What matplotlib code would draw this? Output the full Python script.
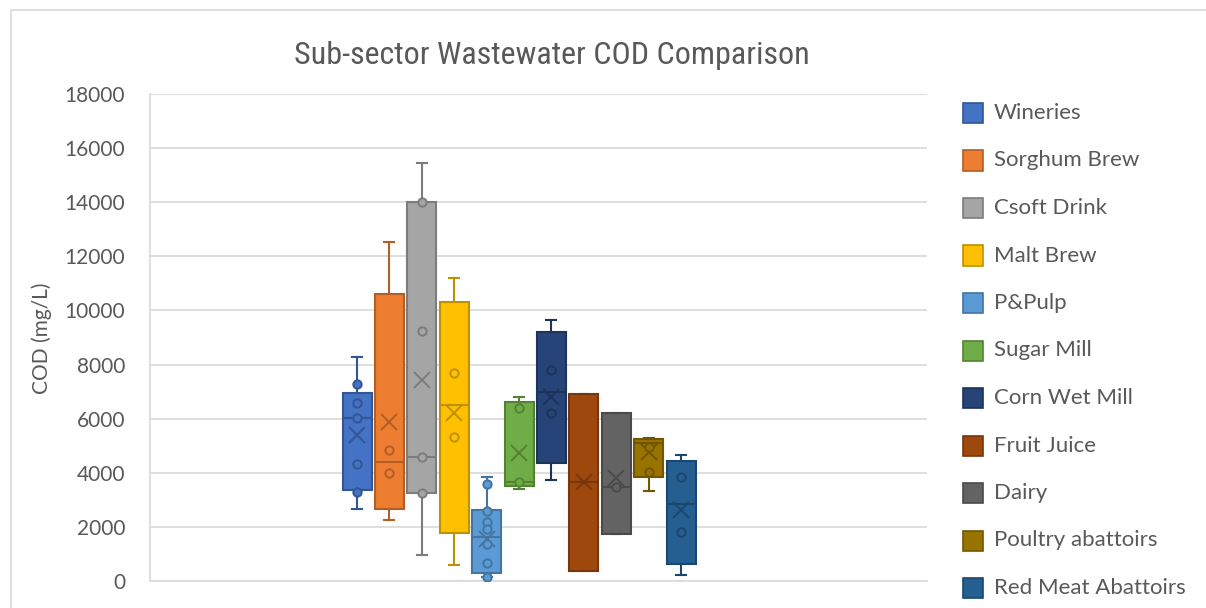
import matplotlib
matplotlib.use("Agg")
import matplotlib.pyplot as plt
from matplotlib.patches import Rectangle
from matplotlib.colors import to_rgb

# ---------------------------------------------------------------
# data
# ---------------------------------------------------------------
sectors = ["Wineries", "Sorghum Brew", "Csoft Drink", "Malt Brew", "P&Pulp",
           "Sugar Mill", "Corn Wet Mill", "Fruit Juice", "Dairy",
           "Poultry abattoirs", "Red Meat Abattoirs"]
colors = ["#4472C4", "#ED7D31", "#A5A5A5", "#FFC000", "#5B9BD5", "#70AD47",
          "#264478", "#9E480E", "#636363", "#997300", "#255E91"]

q1 = [3360, 2670, 3240, 1760, 310, 3510, 4350, 370, 1740, 3850, 620]
median = [6040, 4410, 4570, 6500, 1640, 3650, 7000, 3650, 3490, 5090, 2850]
q3 = [6960, 10610, 14020, 10320, 2620, 6600, 9190, 6900, 6200, 5240, 4450]
whisker_lo = [2670, 2270, 950, 580, 137, 3390, 3730, 370, 1740, 3340, 220]
whisker_hi = [8290, 12540, 15440, 11210, 3850, 6810, 9650, 6900, 6200, 5300, 4660]
mean = [5400, 5890, 7430, 6200, 1560, 4740, 6810, 3650, 3800, 4780, 2620]

points = [
    [7270, 6570, 6040, 4310, 3280],
    [4840, 4000],
    [14020, 9240, 4570, 3240],
    [7680, 5330],
    [3570, 2590, 2190, 1910, 1360, 650, 137],
    [6400, 3670],
    [7800, 6220],
    [],
    [3490],
    [4960, 4040],
    [3830, 1820],
]

yticks = list(range(0, 18001, 2000))


def darker(c, f=0.75):
    r, g, b = to_rgb(c)
    return (r * f, g * f, b * f)


plt.rcParams['font.family'] = ['Lato', 'DejaVu Sans']
text_grey = "#595959"
grid_grey = "#D9D9D9"

fig = plt.figure(figsize=(12.06, 6.08), dpi=100)
fig.patch.set_facecolor("white")

# chart frame
fig.patches.append(Rectangle((10.5 / 1206, -0.05), 1.2, 1 - 9.5 / 608 + 0.05,
                             transform=fig.transFigure, fill=False,
                             edgecolor=grid_grey, linewidth=1.2))

ax = fig.add_axes([150 / 1206, 1 - 581 / 608, 777 / 1206, 487 / 608])

# group layout
n = len(sectors)
centre = (519 - 150) / 777
step = 32.4 / 777
width = 29 / 777
positions = [centre + (i - (n - 1) / 2) * step for i in range(n)]

stats = []
for i in range(n):
    stats.append(dict(med=median[i], q1=q1[i], q3=q3[i], whislo=whisker_lo[i],
                      whishi=whisker_hi[i], mean=mean[i], fliers=[]))

for i in range(n):
    dark = darker(colors[i])
    ax.bxp([stats[i]], positions=[positions[i]], widths=width,
           capwidths=10 / 777, patch_artist=True, showmeans=True,
           showfliers=False, manage_ticks=False,
           boxprops=dict(facecolor=colors[i], edgecolor=dark, linewidth=1.5),
           medianprops=dict(color=dark, linewidth=1.5),
           whiskerprops=dict(color=dark, linewidth=1.5),
           capprops=dict(color=dark, linewidth=1.5),
           meanprops=dict(marker="x", markeredgecolor=dark,
                          markersize=11, markeredgewidth=1.4), zorder=3)
    if points[i]:
        ax.plot([positions[i]] * len(points[i]), points[i], linestyle="none",
                marker="o", markersize=6, markerfacecolor=colors[i],
                markeredgecolor=dark, markeredgewidth=1.4, zorder=4)

ax.set_xlim(0, 1)
ax.set_ylim(0, 18000)
ax.set_yticks(yticks)
ax.set_yticklabels([str(t) for t in yticks], fontsize=15, color=text_grey)
ax.set_xticks([])
ax.tick_params(axis="y", length=0, pad=18)
ax.yaxis.grid(True, color=grid_grey, linewidth=1.2)
ax.set_axisbelow(True)
for s in ["top", "right"]:
    ax.spines[s].set_visible(False)
ax.spines["left"].set_color(grid_grey)
ax.spines["bottom"].set_color(grid_grey)
ax.spines["left"].set_linewidth(1.2)
ax.spines["bottom"].set_linewidth(1.2)

fig.text(42 / 1206, 1 - 338 / 608, "COD (mg/L)", rotation=90, ha="center",
         va="center", fontsize=15, color=text_grey)

fig.text(552 / 1206, 1 - 64 / 608, "Sub-sector Wastewater COD Comparison",
         ha="center", va="baseline", fontsize=23, color=text_grey,
         family=["Roboto Condensed", "DejaVu Sans"], fontstretch="condensed")

# legend
for i in range(n):
    yc = 113 + i * 47.5
    fig.patches.append(Rectangle((963 / 1206, 1 - (yc + 10) / 608), 20 / 1206,
                                 20 / 608, transform=fig.transFigure,
                                 facecolor=colors[i], edgecolor=darker(colors[i]),
                                 linewidth=1.2))
    fig.text(994 / 1206, 1 - yc / 608, sectors[i], ha="left", va="center",
             fontsize=16, color=text_grey)

fig.savefig("out.png", dpi=100)
